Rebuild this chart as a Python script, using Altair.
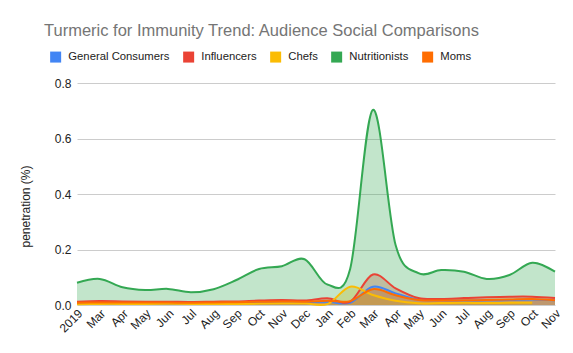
import altair as alt
import pandas as pd

labels = ["2019", "Mar", "Apr", "May", "Jun", "Jul", "Aug", "Sep", "Oct", "Nov", "Dec",
          "Jan", "Feb", "Mar", "Apr", "May", "Jun", "Jul", "Aug", "Sep", "Oct", "Nov"]

series = ["General Consumers", "Influencers", "Chefs", "Nutritionists", "Moms"]
colors = ["#4285F4", "#EA4335", "#FBBC04", "#34A853", "#FF6D01"]

general = [0.006, 0.007, 0.007, 0.007, 0.008, 0.007, 0.007, 0.008, 0.010, 0.011, 0.010,
           0.012, 0.008, 0.066, 0.042, 0.020, 0.017, 0.016, 0.017, 0.018, 0.020, 0.017]
influencers = [0.012, 0.014, 0.013, 0.012, 0.012, 0.011, 0.012, 0.013, 0.016, 0.018, 0.016,
               0.024, 0.012, 0.110, 0.060, 0.025, 0.022, 0.025, 0.028, 0.030, 0.030, 0.025]
chefs = [0.003, 0.004, 0.004, 0.004, 0.005, 0.004, 0.004, 0.004, 0.005, 0.006, 0.006,
         0.003, 0.066, 0.036, 0.015, 0.006, 0.007, 0.008, 0.007, 0.008, 0.008, None]
nutritionists = [0.080, 0.094, 0.064, 0.054, 0.058, 0.046, 0.057, 0.090, 0.130, 0.140, 0.165,
                 0.074, 0.130, 0.703, 0.215, 0.115, 0.126, 0.120, 0.094, 0.108, 0.152, 0.120]
moms = [0.008, 0.009, 0.009, 0.009, 0.009, 0.008, 0.009, 0.010, 0.012, 0.013, 0.012,
        0.015, 0.014, 0.057, 0.035, 0.018, 0.016, 0.017, 0.018, 0.020, 0.022, 0.017]

rows = []
for name, vals in zip(series, [general, influencers, chefs, nutritionists, moms]):
    for i, v in enumerate(vals):
        if v is not None:
            rows.append({"i": i, "v": v, "s": name, "o": series.index(name)})
df = pd.DataFrame(rows)

FONT = "Liberation Sans"
label_expr = "[" + ",".join("'%s'" % l for l in labels) + "][datum.value]"

x = alt.X("i:Q", scale=alt.Scale(domain=[0, 21], nice=False, zero=False),
          axis=alt.Axis(values=list(range(22)), labelExpr=label_expr, labelAngle=315,
                        labelAlign="right", labelBaseline="middle", labelPadding=6,
                        labelOffset=3, labelFont=FONT, labelFontSize=12, labelColor="#222222",
                        grid=False, ticks=False, domain=False, title=None, labelOverlap=False))
y = alt.Y("v:Q", scale=alt.Scale(domain=[0, 0.8], nice=False), stack=None,
          axis=alt.Axis(values=[0, 0.2, 0.4, 0.6, 0.8], format=".1f", title="penetration (%)",
                        titleFont=FONT, titleFontSize=12, titleFontWeight="normal",
                        titleColor="#222222", titleX=-52, titleY=123, titleAngle=270,
                        titleAlign="center", titleBaseline="middle",
                        labelFont=FONT, labelFontSize=12, labelColor="#222222", labelPadding=6,
                        ticks=False, domain=False, gridColor="#cccccc", gridWidth=1))
color_scale = alt.Scale(domain=series, range=colors)

base = alt.Chart(df)
areas = base.mark_area(interpolate="cardinal", fillOpacity=0.3).encode(
    x=x, y=y,
    color=alt.Color("s:N", scale=color_scale,
                    legend=alt.Legend(orient="none", direction="horizontal", legendX=-27,
                                      legendY=-32, title=None, symbolType="square",
                                      symbolSize=121, symbolOpacity=1, symbolStrokeWidth=0,
                                      labelFont=FONT, labelFontSize=11.3, labelColor="#222222",
                                      columnPadding=13, labelOffset=7)),
    order=alt.Order("o:Q"),
)
lines = base.mark_line(interpolate="cardinal", strokeWidth=2).encode(
    x=x, y=y,
    color=alt.Color("s:N", scale=color_scale, legend=None),
    order=alt.Order("o:Q"),
)

chart = alt.layer(areas, lines).properties(
    width=478, height=222,
    autosize="none",
    padding={"left": 77, "top": 83, "right": 18, "bottom": 48},
    title=alt.TitleParams("Turmeric for Immunity Trend: Audience Social Comparisons",
                          anchor="start", dx=-33, dy=17, frame="group", offset=16,
                          baseline="alphabetic", font=FONT, fontSize=16.5,
                          fontWeight="normal", color="#757575"),
).configure_view(stroke=None)

chart.save("out.html", embed_options={"renderer": "svg", "actions": False})
